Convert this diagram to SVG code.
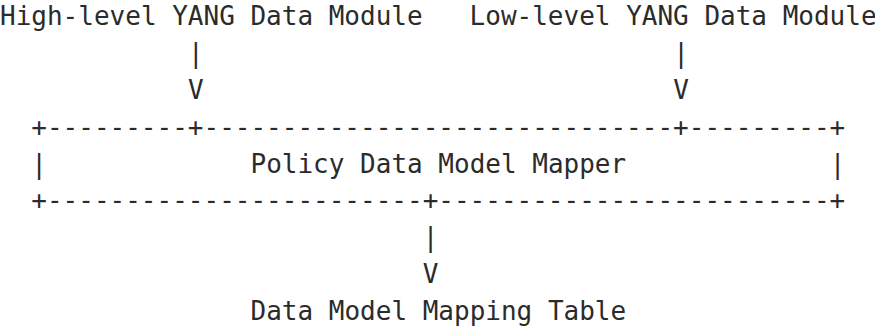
<svg xmlns="http://www.w3.org/2000/svg" width="875" height="328" viewBox="0 0 875 328">
<style>
text{font-family:"DejaVu Sans Mono","Liberation Mono",monospace;font-size:26px;fill:#2b2b2b;white-space:pre}
</style>
<rect width="875" height="328" fill="#ffffff"/>
<g id="high-level-module"><text x="0" y="25" xml:space="preserve">High-level YANG Data Module</text></g>
<g id="low-level-module"><text x="469.6" y="25" xml:space="preserve">Low-level YANG Data Module</text></g>
<g id="policy-data-model-mapper">
<text x="31.3" y="135.6" xml:space="preserve">+---------+------------------------------+---------+</text>
<text x="31.3" y="172.5" xml:space="preserve">|</text>
<text x="250.5" y="172.5" xml:space="preserve">Policy Data Model Mapper</text>
<text x="829.7" y="172.5" xml:space="preserve">|</text>
<text x="31.3" y="209.4" xml:space="preserve">+------------------------+-------------------------+</text>
</g>
<g id="data-model-mapping-table"><text x="250.5" y="320" xml:space="preserve">Data Model Mapping Table</text></g>
<g id="connectors">
<text x="187.9" y="61.9">|</text>
<text x="187.9" y="98.75">V</text>
<text x="673.2" y="61.9">|</text>
<text x="673.2" y="98.75">V</text>
<text x="422.7" y="246.25">|</text>
<text x="422.7" y="283.1">V</text>
</g>
</svg>
